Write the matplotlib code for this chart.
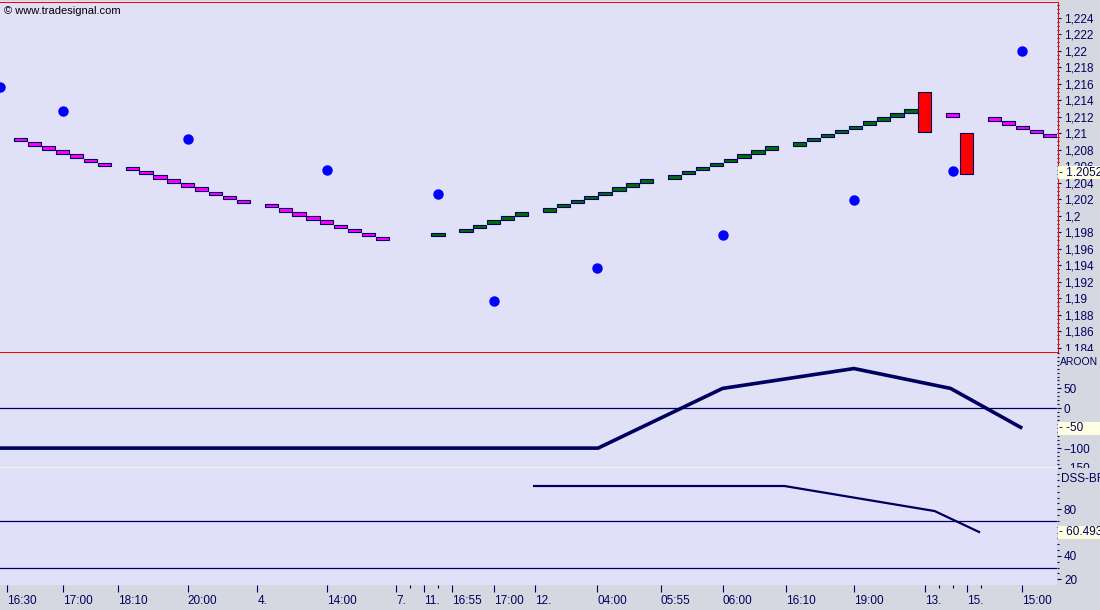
import matplotlib
matplotlib.use('Agg')
import matplotlib.pyplot as plt
from matplotlib.lines import Line2D
from matplotlib.patches import Rectangle
from matplotlib.transforms import blended_transform_factory, Bbox, TransformedBbox

plt.rcParams['font.family'] = ['Liberation Sans', 'DejaVu Sans']
fs = 8.5

# ---- price boxes (x = bar slot, y = body centre) ----
pink_x = [1, 2, 3, 4, 5, 6, 7,
          9, 10, 11, 12, 13, 14, 15, 16, 17,
          19, 20, 21, 22, 23, 24, 25, 26, 27,
          68, 71, 72, 73, 74, 75]
pink_y = [1.2092, 1.2087, 1.2082, 1.2077, 1.2072, 1.2067, 1.2062,
          1.2057, 1.2052, 1.2047, 1.2042, 1.2037, 1.2032, 1.2027, 1.2022, 1.2017,
          1.2012, 1.2007, 1.2002, 1.1997, 1.1992, 1.1987, 1.1982, 1.1977, 1.1972,
          1.2122, 1.2117, 1.2112, 1.2107, 1.2102, 1.2097]
green_x = [31, 33, 34, 35, 36, 37,
           39, 40, 41, 42, 43, 44, 45, 46,
           48, 49, 50, 51, 52, 53, 54, 55,
           57, 58, 59, 60, 61, 62, 63, 64, 65]
green_y = [1.1977, 1.1982, 1.1987, 1.1992, 1.1997, 1.2002,
           1.2007, 1.2012, 1.2017, 1.2022, 1.2027, 1.2032, 1.2037, 1.2042,
           1.2047, 1.2052, 1.2057, 1.2062, 1.2067, 1.2072, 1.2077, 1.2082,
           1.2087, 1.2092, 1.2097, 1.2102, 1.2107, 1.2112, 1.2117, 1.2122, 1.2127]
red_x = [66, 69]
red_lo = [1.2101, 1.2050]
red_hi = [1.2150, 1.2100]

# blue dots
dot_x = [-0.5, 4, 13, 23, 31, 35, 42.45, 51.45, 60.9, 68, 73]
dot_y = [1.2156, 1.2127, 1.2093, 1.2055, 1.2026, 1.1897, 1.1936, 1.1976, 1.2019, 1.2054, 1.2200]
last_price = 1.2052

# indicators
aroon_x = [-0.5, 42.5, 51.45, 60.9, 67.85, 73.0]
aroon_y = [-100, -100, 50, 100, 50, -50]
dss_x = [37.9, 55.9, 66.7, 69.9]
dss_y = [100, 100, 78.5, 60.493]

# time axis
tick_pos = [0, 4, 8, 13, 18, 23, 28, 30, 32, 35, 38, 42.45, 47, 51.45, 56, 60.9, 66, 69, 73]
tick_lbl = ['16:30', '17:00', '18:10', '20:00', '4.', '14:00', '7.', '11.', '16:55', '17:00',
            '12.', '04:00', '05:55', '06:00', '16:10', '19:00', '13.', '15.', '15:00']
minor_pos = [29, 31, 67, 68, 70]

W, H = 1100, 610
navy = '#000060'
bg = '#E0E0F6'

fig = plt.figure(figsize=(11, 6.1), dpi=100, facecolor='#D5D8E0')
ax1 = fig.add_axes([0, 259 / H, 1057 / W, 350 / H])
ax2 = fig.add_axes([0, 142 / H, 1057 / W, 117 / H], sharex=ax1)
ax3 = fig.add_axes([0, 25 / H, 1057 / W, 117 / H], sharex=ax1)

for ax in (ax1, ax2, ax3):
    ax.set_facecolor(bg)
    ax.yaxis.tick_right()
    ax.tick_params(axis='y', which='major', direction='out', length=3, width=0.8,
                   pad=2, labelsize=fs, colors=navy)
    ax.tick_params(axis='y', which='minor', direction='out', length=1.5, width=0.8, colors=navy)
    for s in ax.spines.values():
        s.set_visible(False)
ax3.set_facecolor('#E2E0F9')

# main price panel
h = 0.00042
ax1.bar(pink_x, [h] * len(pink_x), bottom=[v - h / 2 for v in pink_y], width=0.95,
        color='#FF00FF', edgecolor=navy, linewidth=0.8, zorder=3)
ax1.bar(green_x, [h] * len(green_x), bottom=[v - h / 2 for v in green_y], width=0.95,
        color='#007000', edgecolor=navy, linewidth=0.8, zorder=3)
ax1.bar(red_x, [b - a for a, b in zip(red_lo, red_hi)], bottom=red_lo, width=0.95,
        color='#FF0000', edgecolor=navy, linewidth=0.8, zorder=3)
ax1.plot(dot_x, dot_y, 'o', color='#0000FF', markersize=6.5, zorder=4)
ax1.set_xlim(-0.5, 75.5)
ax1.set_ylim(1.1836, 1.2260)
yt = [1.184 + 0.002 * i for i in range(21)]
ax1.set_yticks(yt)
ax1.set_yticklabels([('%.3f' % v).rstrip('0').rstrip('.').replace('.', ',') for v in yt])
ax1.set_yticks([1.184 + 0.0005 * i for i in range(84)], minor=True)
clip1 = TransformedBbox(Bbox([[0, 259 / H], [1, 1]]), fig.transFigure)
for lab in ax1.get_yticklabels():
    lab.set_clip_on(True)
    lab.set_clip_box(clip1)

# thin red frame round the price panel (1 px lines)
top, bot, right = 1 - 1.5 / H, 1 - 351.5 / H, 1057.5 / W
for xs, ys in (([0, right], [top, top]), ([0, right], [bot, bot]), ([right, right], [bot, top])):
    fig.add_artist(Line2D(xs, ys, color='#FF0000', linewidth=0.72, zorder=4))

# AROON
ax2.plot(aroon_x, aroon_y, color=navy, linewidth=2.6, solid_capstyle='butt', zorder=3)
ax2.axhline(0, color=navy, linewidth=0.9)
ax2.set_ylim(-140.3, 144.1)
ax2.set_yticks([-150, -100, -50, 0, 50])
ax2.set_yticks(list(range(-150, 150, 10)), minor=True)
ax2.spines['bottom'].set_visible(True)
ax2.spines['bottom'].set_color('#F2F2F6')
ax2.spines['bottom'].set_linewidth(1.5)
clip2 = TransformedBbox(Bbox([[0, 142 / H], [1, 259 / H]]), fig.transFigure)
for lab in ax2.get_yticklabels():
    lab.set_clip_on(True)
    lab.set_clip_box(clip2)

# DSS-BR
ax3.plot(dss_x, dss_y, color=navy, linewidth=1.6, zorder=3)
ax3.axhline(70, color=navy, linewidth=0.9)
ax3.axhline(30, color=navy, linewidth=0.9)
ax3.set_ylim(15.0, 115.45)
ax3.set_yticks([20, 40, 60, 80])
ax3.set_yticks(list(range(20, 115, 5)), minor=True)

for ax in (ax1, ax2):
    ax.tick_params(axis='x', which='both', bottom=False, labelbottom=False)
ax3.set_xticks(tick_pos)
ax3.set_xticklabels(tick_lbl, ha='left')
ax3.set_xticks(minor_pos, minor=True)
ax3.tick_params(axis='x', which='major', direction='out', length=5, width=0.8,
                pad=2, labelsize=fs, colors=navy)
ax3.tick_params(axis='x', which='minor', direction='out', length=2, width=0.8, colors=navy)

# current value boxes
def value_box(ax, y, hpx, text):
    tr = blended_transform_factory(fig.transFigure, ax.transData)
    y0, y1 = ax.get_ylim()
    ax_h = ax.get_position().height * H
    dh = hpx / ax_h * (y1 - y0)
    fig.add_artist(Rectangle((1058 / W, y - dh / 2), (W - 1058) / W, dh, transform=tr,
                             facecolor='#FFFFE1', edgecolor='none', zorder=5))
    fig.add_artist(plt.Text(1059 / W, y, '- ' + text, transform=tr, va='center', ha='left',
                            fontsize=fs, color=navy, zorder=6))

value_box(ax1, last_price, 13, '%.4f' % last_price)
value_box(ax2, aroon_y[-1], 13, '%d' % aroon_y[-1])
value_box(ax3, dss_y[-1], 13, '%.3f' % dss_y[-1])

fig.text(1060 / W, 1 - 362 / H, 'AROON', va='center', ha='left', fontsize=7.5, color=navy)
fig.text(1061 / W, 1 - 479 / H, 'DSS-BR', va='center', ha='left', fontsize=fs, color=navy)
fig.text(4 / W, 1 - 11 / H, '\u00a9 www.tradesignal.com', va='center', ha='left',
         fontsize=8, color='black')

fig.savefig('out.png', dpi=100, facecolor=fig.get_facecolor())
